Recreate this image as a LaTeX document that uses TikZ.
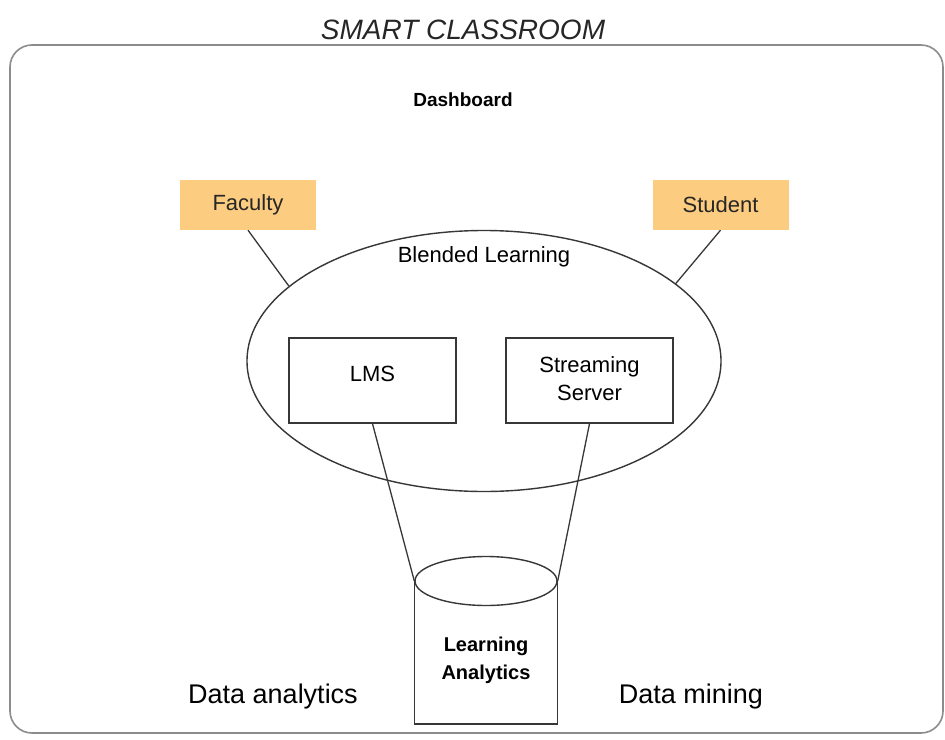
\documentclass[tikz,border=0pt]{standalone}
\usepackage{fontspec}
\setmainfont{Liberation Sans}
\usetikzlibrary{shapes.geometric}
\definecolor{boxorange}{RGB}{252,204,128}
\definecolor{linegray}{RGB}{55,55,55}
\definecolor{framegray}{RGB}{140,140,140}
\tikzset{
  actor/.style={draw=none, fill=boxorange, minimum width=136pt, minimum height=50pt, inner sep=0pt, font=\fontsize{22}{26}\selectfont, text=black!85},
  sysbox/.style={draw=linegray, line width=1.4pt, fill=white, minimum width=167pt, minimum height=85pt, inner sep=0pt, align=center, font=\fontsize{22}{28}\selectfont},
  conn/.style={draw=linegray, line width=1.3pt},
  lbl/.style={inner sep=0pt, align=center}
}
\begin{document}
\begin{tikzpicture}[x=1pt,y=-1pt]
\useasboundingbox (0,0) rectangle (945,739);
\fill[white] (0,0) rectangle (945,739);
% outer frame
\draw[framegray, line width=1.6pt, rounded corners=22pt] (10,45) rectangle (943,733);
\node[lbl, font=\fontsize{28}{32}\selectfont\itshape, text=black!85] (title) at (463,30) {SMART CLASSROOM};
\node[lbl, font=\fontsize{19}{22}\selectfont\bfseries] (dash) at (463,100) {Dashboard};
% blended learning ellipse
\node[ellipse, draw=linegray, line width=1.4pt, minimum width=474pt, minimum height=261pt, inner sep=0pt] (blend) at (484,361) {};
\node[lbl, font=\fontsize{22}{26}\selectfont] (blendlbl) at (484,257) {Blended Learning};
% actors
\node[actor] (fac) at (248,205) {Faculty};
\node[actor] (stu) at (720.5,205) {Student};
% systems
\node[sysbox] (lms) at (372.5,380.5) {};
\node[lbl, font=\fontsize{22}{26}\selectfont] (lmslbl) at (372.5,374) {LMS};
\node[sysbox] (stream) at (589.5,380.5) {};
\node[lbl, font=\fontsize{22}{28}\selectfont] (streamlbl) at (589.5,379) {Streaming\\Server};
% cylinder
\node[ellipse, draw=linegray, line width=1.4pt, minimum width=142pt, minimum height=49pt, inner sep=0pt] (cyltop) at (486,581) {};
\draw[linegray, line width=1.4pt] (cyltop.west) -- ++(0,143) -| (cyltop.east);
\node[lbl, font=\fontsize{20}{28}\selectfont\bfseries] (la) at (486,660) {Learning\\Analytics};
% connectors
\draw[conn] (fac.south) -- (blend.159);
\draw[conn] (stu.south) -- (blend.22);
\draw[conn] (lms.south) -- (cyltop.west);
\draw[conn] (stream.south) -- (cyltop.east);
% bottom labels
\node[lbl, font=\fontsize{27}{30}\selectfont] (da) at (273,697) {Data analytics};
\node[lbl, font=\fontsize{27}{30}\selectfont] (dm) at (691,697) {Data mining};
\end{tikzpicture}
\end{document}
